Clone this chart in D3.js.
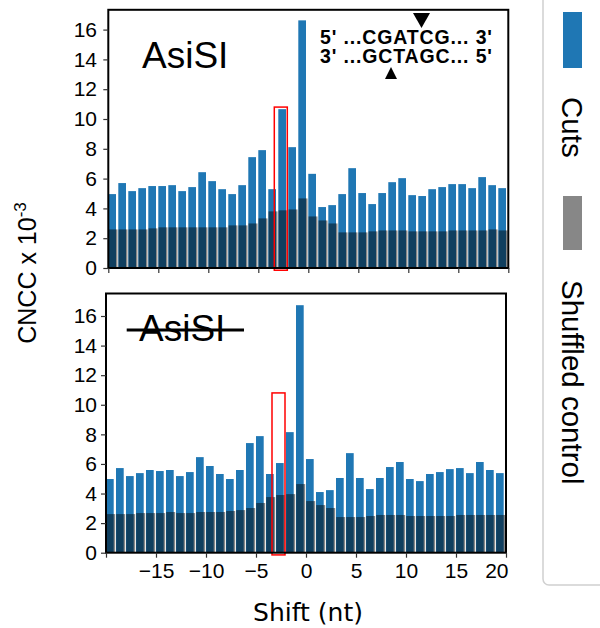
<!DOCTYPE html>
<html>
<head>
<meta charset="utf-8">
<script src="https://cdn.jsdelivr.net/npm/d3@7"></script>
<style>
  html, body { margin: 0; padding: 0; background: #fff; }
  svg { display: block; }
</style>
</head>
<body>
<svg id="chart" width="600" height="628"></svg>
<script>
// ---------------- data ----------------
const shifts = [-20,-19,-18,-17,-16,-15,-14,-13,-12,-11,-10,-9,-8,-7,-6,-5,-4,-3,-2,-1,
                0,1,2,3,4,5,6,7,8,9,10,11,12,13,14,15,16,17,18,19];

const cutsTop = [4.96,5.70,5.16,5.36,5.50,5.50,5.56,5.16,5.43,6.43,
                 5.83,5.29,4.96,5.56,7.44,7.91,5.29,10.66,8.11,16.62,
                 6.32,4.09,4.22,4.96,6.70,5.03,4.29,5.03,5.76,6.03,
                 4.89,4.83,5.29,5.43,5.63,5.63,5.36,6.10,5.56,5.36];
const shuffledTop = [2.59,2.59,2.59,2.59,2.66,2.73,2.73,2.73,2.73,2.73,
                     2.73,2.73,2.86,2.86,2.99,3.33,3.80,3.87,3.93,4.67,
                     3.46,3.19,2.99,2.39,2.39,2.39,2.46,2.52,2.52,2.52,
                     2.46,2.46,2.46,2.46,2.52,2.52,2.52,2.52,2.59,2.52];

const cutsBottom = [4.98,5.72,5.18,5.38,5.59,5.52,5.59,5.18,5.45,6.46,
                    5.86,5.32,4.98,5.59,7.41,7.88,5.32,6.06,8.15,16.73,
                    6.33,4.10,4.23,5.05,6.73,5.05,4.30,5.05,5.79,6.13,
                    4.98,4.84,5.32,5.45,5.65,5.72,5.38,6.13,5.59,5.38];
const shuffledBottom = [2.61,2.61,2.61,2.68,2.68,2.68,2.75,2.68,2.68,2.75,
                        2.75,2.75,2.82,2.88,3.02,3.36,3.76,3.90,3.96,4.64,
                        3.49,3.22,3.02,2.41,2.41,2.41,2.48,2.55,2.55,2.55,
                        2.48,2.48,2.48,2.48,2.48,2.55,2.55,2.55,2.55,2.55];

const yTicks = [0,2,4,6,8,10,12,14,16];
const xTicks = [-20,-15,-10,-5,0,5,10,15,20];
const xTickLabels = ["", "\u221215", "\u221210", "\u22125", "0", "5", "10", "15", "20"];
const highlight = {x0: -3.4, x1: -2.1, v0: -0.15, v1: 10.8};

const seqTop = "5' ...CGATCG... 3'";
const seqBottom = "3' ...GCTAGC... 5'";
const legendItems = ["Cuts", "Shuffled control"];

// ---------------- style ----------------
const BLUE = "#1f77b4";
const GRAY = "#000";
const GRAY_OPACITY = 0.47;
const FONT = "'Liberation Sans', Arial, Helvetica, sans-serif";

const svg = d3.select("#chart");

const panels = [
  {px0: 108.3, px1: 508.3, py0: 268, py16: 29.6, pyTop: 9.8,
   cuts: cutsTop, shuf: shuffledTop, label: "AsiSI", strike: false, showX: false, lx: 142, ly: 68},
  {px0: 106, px1: 506, py0: 552.7, py16: 316, pyTop: 293.5,
   cuts: cutsBottom, shuf: shuffledBottom, label: "AsiSI", strike: true, showX: true, lx: 139, ly: 341}
];

panels.forEach((p, pi) => {
  const x = d3.scaleLinear().domain([-20, 20]).range([p.px0, p.px1]);
  const y = d3.scaleLinear().domain([0, 16]).range([p.py0, p.py16]);
  const yMax = y.invert(p.pyTop);
  const g = svg.append("g");

  const clipId = "clip" + pi;
  svg.append("clipPath").attr("id", clipId).append("rect")
    .attr("x", x(-20)).attr("y", y(yMax))
    .attr("width", x(20) - x(-20)).attr("height", y(0) - y(yMax));

  const bars = g.append("g").attr("clip-path", `url(#${clipId})`);
  // cuts (blue)
  bars.selectAll("rect.cut").data(shifts).join("rect")
    .attr("class", "cut")
    .attr("x", d => x(d))
    .attr("width", d => x(d + 0.77) - x(d))
    .attr("y", (d, i) => y(p.cuts[i]))
    .attr("height", (d, i) => y(0) - y(p.cuts[i]))
    .attr("fill", BLUE);
  // shuffled control (translucent gray on top)
  bars.selectAll("rect.shuf").data(shifts).join("rect")
    .attr("class", "shuf")
    .attr("x", d => x(d + 0.02))
    .attr("width", d => x(d + 0.92) - x(d + 0.02))
    .attr("y", (d, i) => y(p.shuf[i]))
    .attr("height", (d, i) => y(0) - y(p.shuf[i]))
    .attr("fill", GRAY).attr("fill-opacity", GRAY_OPACITY);

  // highlight box
  g.append("rect")
    .attr("x", x(highlight.x0)).attr("y", y(highlight.v1))
    .attr("width", x(highlight.x1) - x(highlight.x0))
    .attr("height", y(highlight.v0) - y(highlight.v1))
    .attr("fill", "none").attr("stroke", "#f00").attr("stroke-width", 1.5);

  // frame
  g.append("rect")
    .attr("x", x(-20)).attr("y", y(yMax))
    .attr("width", x(20) - x(-20)).attr("height", y(0) - y(yMax))
    .attr("fill", "none").attr("stroke", "#000").attr("stroke-width", 2);

  // y axis
  const yAxis = d3.axisLeft(y).tickValues(yTicks).tickSize(5).tickPadding(6)
    .tickFormat(d3.format("d"));
  const ya = g.append("g").attr("transform", `translate(${x(-20)},0)`).call(yAxis);
  ya.select(".domain").remove();
  ya.selectAll(".tick line").attr("stroke", "#333").attr("stroke-width", 1.2);
  ya.selectAll(".tick text").attr("font-family", FONT).attr("font-size", 21)
    .attr("fill", "#000").attr("x", 97 - x(-20));

  // x axis
  const xAxis = d3.axisBottom(x).tickValues(xTicks).tickSize(5).tickPadding(6)
    .tickFormat((d, i) => p.showX ? xTickLabels[i] : "");
  const xa = g.append("g").attr("transform", `translate(0,${y(0)})`).call(xAxis);
  xa.select(".domain").remove();
  xa.selectAll(".tick line").attr("stroke", "#333").attr("stroke-width", 1.2);
  xa.selectAll(".tick text").attr("font-family", FONT).attr("font-size", 21)
    .attr("fill", "#000").attr("y", 0).attr("dy", 0)
    .attr("transform", "translate(0,25.5)");
  xa.selectAll(".tick text").filter(d => d === 20).attr("text-anchor", "end").attr("dx", 2);

  // panel label
  g.append("text").attr("x", p.lx).attr("y", p.ly)
    .attr("font-family", FONT).attr("font-size", 37).attr("fill", "#000")
    .text(p.label);
  if (p.strike) {
    g.append("line").attr("x1", 126.7).attr("x2", 244).attr("y1", 330).attr("y2", 330)
      .attr("stroke", "#000").attr("stroke-width", 3);
  }
});

// sequence annotation (top panel)
const seq = svg.append("g").attr("font-family", FONT).attr("font-weight", "bold")
  .attr("font-size", 19.5).attr("fill", "#000");
seq.append("text").attr("x", 320).attr("y", 44).attr("textLength", 172).text(seqTop);
seq.append("text").attr("x", 320).attr("y", 63).attr("textLength", 172).text(seqBottom);
svg.append("path").attr("d", "M413,13 L430,13 L421.5,28 Z").attr("fill", "#000");
svg.append("path").attr("d", "M385,79 L397,79 L391,67 Z").attr("fill", "#000");

// y label
const yl = svg.append("text")
  .attr("transform", "translate(36,273) rotate(-90)")
  .attr("text-anchor", "middle")
  .attr("font-family", FONT).attr("font-size", 25).attr("fill", "#000");
yl.append("tspan").text("CNCC x 10");
yl.append("tspan").attr("font-size", 17).attr("dy", -10).text("-3");

// x label
svg.append("text").attr("x", 308).attr("y", 621).attr("text-anchor", "middle")
  .attr("font-family", "'DejaVu Sans', sans-serif").attr("font-size", 25).attr("fill", "#000")
  .text("Shift (nt)");

// legend
const lg = svg.append("g");
lg.append("rect").attr("x", 543).attr("y", -10).attr("width", 70).attr("height", 595)
  .attr("rx", 6).attr("fill", "#fff").attr("stroke", "#d0d0d0").attr("stroke-width", 1.5);
lg.append("rect").attr("x", 563).attr("y", 12).attr("width", 19).attr("height", 56).attr("fill", BLUE);
lg.append("rect").attr("x", 563).attr("y", 196).attr("width", 19).attr("height", 54)
  .attr("fill", GRAY).attr("fill-opacity", GRAY_OPACITY);
const legendPos = [97, 280];
legendItems.forEach((t, i) => {
  lg.append("text").attr("transform", `translate(562,${legendPos[i]}) rotate(90)`)
    .attr("font-family", FONT).attr("font-size", 29.5).attr("fill", "#000").text(t);
});
</script>
</body>
</html>
